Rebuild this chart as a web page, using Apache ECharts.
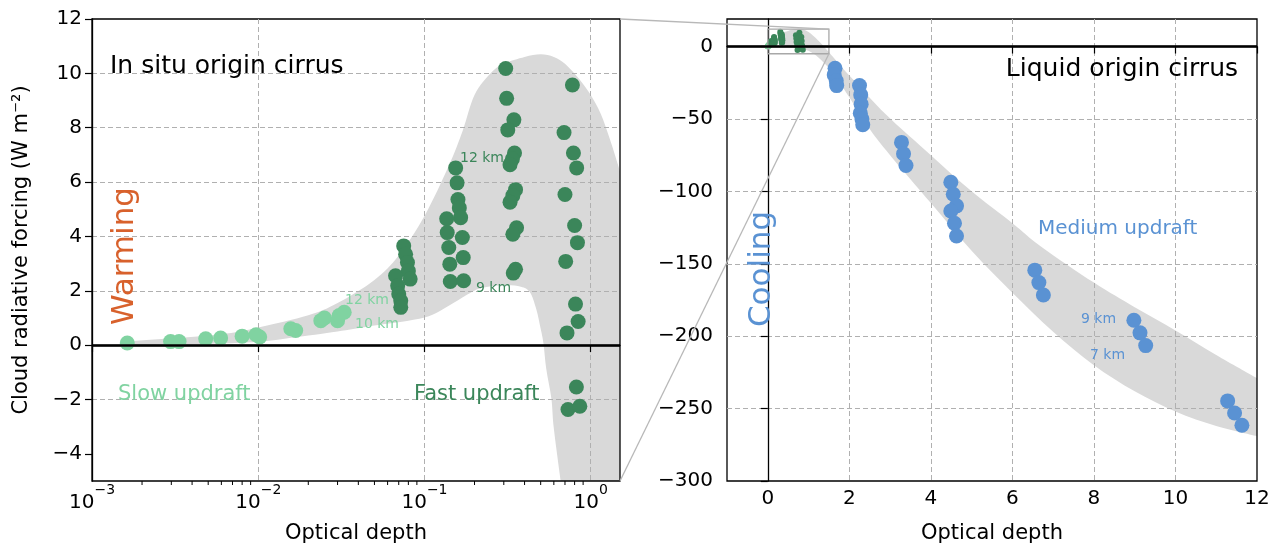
<!DOCTYPE html>
<html>
<head>
<meta charset="utf-8">
<script src="https://cdn.jsdelivr.net/npm/echarts@6/dist/echarts.min.js"></script>
<style>
html,body{margin:0;padding:0;background:#ffffff;}
#chart{width:1276px;height:549px;}
</style>
</head>
<body>
<div id="chart"></div>
<script>
// ---------------- data ----------------
// Left panel: in situ origin cirrus (log x)
const slowX = [0.00163, 0.00297, 0.00334, 0.00483, 0.00594, 0.0080, 0.0097, 0.0102, 0.0157, 0.0168, 0.0238, 0.0250, 0.0300, 0.0307, 0.0329];
const slowY = [0.08, 0.13, 0.13, 0.23, 0.26, 0.33, 0.38, 0.30, 0.60, 0.54, 0.90, 1.00, 0.90, 1.09, 1.21];

const fastX = [0.075, 0.077, 0.079, 0.080, 0.082, 0.067, 0.069, 0.070, 0.072, 0.072,
               0.154, 0.157, 0.159, 0.162, 0.165, 0.136, 0.137, 0.169, 0.140, 0.171, 0.142, 0.143, 0.172,
               0.308, 0.312, 0.345, 0.317, 0.348, 0.338, 0.327, 0.353, 0.340, 0.327, 0.358, 0.340, 0.353, 0.342,
               0.776, 0.691, 0.787, 0.823, 0.700, 0.800, 0.832, 0.707, 0.810, 0.840, 0.720, 0.820, 0.730, 0.860];
const fastY = [3.65, 3.34, 3.04, 2.73, 2.43, 2.55, 2.18, 1.88, 1.63, 1.39,
               6.52, 5.97, 5.36, 5.05, 4.69, 4.65, 4.14, 3.96, 3.59, 3.22, 2.98, 2.34, 2.37,
               10.18, 9.08, 8.29, 7.92, 7.07, 6.85, 6.64, 5.72, 5.50, 5.26, 4.32, 4.08, 2.79, 2.65,
               9.57, 7.82, 7.07, 6.52, 5.54, 4.40, 3.77, 3.08, 1.51, 0.87, 0.45, -1.54, -2.37, -2.25];

// grey envelope, in situ
const inSituUpperX = [0.0015, 0.003, 0.006, 0.01, 0.02, 0.03, 0.05, 0.07, 0.1, 0.14, 0.17, 0.2, 0.25, 0.3, 0.4, 0.5, 0.6, 0.7, 0.85, 1.0, 1.15, 1.3, 1.5];
const inSituUpperY = [0.12, 0.25, 0.4, 0.65, 1.1, 1.55, 2.4, 3.3, 4.75, 6.6, 7.9, 9.2, 10.0, 10.35, 10.6, 10.7, 10.6, 10.35, 9.8, 9.2, 8.5, 7.6, 6.4];
const inSituLowerX = [0.0015, 0.005, 0.01, 0.02, 0.03, 0.05, 0.1, 0.14, 0.18, 0.22, 0.3, 0.38, 0.43, 0.47, 0.5, 0.52, 0.54, 0.58, 0.6, 0.66];
const inSituLowerY = [0.0, 0.05, 0.12, 0.35, 0.5, 0.72, 1.02, 1.45, 1.85, 2.1, 2.2, 2.15, 1.95, 1.33, 0.6, 0.05, -0.87, -1.97, -3.07, -5.0];

// Right panel: liquid origin cirrus (linear x)
const mediumX = [1.65, 1.63, 1.68, 1.69, 2.25, 2.28, 2.29, 2.27, 2.31, 2.33,
                 3.28, 3.33, 3.39, 4.49, 4.55, 4.63, 4.49, 4.58, 4.63,
                 6.55, 6.65, 6.76, 8.98, 9.13, 9.27, 11.28, 11.45, 11.63];
const mediumY = [-15, -19.6, -23.7, -27, -27, -33.4, -39.8, -46, -50, -54,
                 -66.2, -74, -82.2, -93.7, -102, -110, -113.6, -122, -130.8,
                 -154.4, -163, -171.6, -189, -197.7, -206.5, -244.7, -253, -261.5];

const liquidUpperX = [0.4, 1.0, 2.0, 2.9, 4.0, 5.0, 6.0, 6.7, 8.0, 9.0, 10.0, 11.0, 12.0];
const liquidUpperY = [10, 10, -20, -47, -75, -100, -122, -138, -163, -180, -196, -213, -229];
const liquidLowerX = [0.4, 1.0, 1.5, 2.0, 2.5, 3.0, 4.0, 5.0, 6.0, 7.0, 8.0, 9.0, 10.0, 11.0, 12.0];
const liquidLowerY = [0, -3, -15, -35, -57, -75, -108, -141, -170, -197, -220, -238, -252, -262, -269];

// axis ranges and tick labels
const inSituX = [0.001, 1.5];
const inSituY = [-5, 12];
const inSituYTicks = [-4, -2, 0, 2, 4, 6, 8, 10, 12];
const liquidX = [-1, 12];
const liquidXTicks = [0, 2, 4, 6, 8, 10, 12];
const liquidY = [-300, 19];
const decades = [-3, -2, -1, 0];

// ---------------- styling ----------------
const FONT = 'DejaVu Sans';
const DARK = '#3b865a';
const LIGHT = '#80d3a1';
const BLUE = '#5a92d3';
const ORANGE = '#d8612c';
const BAND = '#d9d9d9';
const TICKFS = 20;

function powLabel(v){
  const e = Math.log10(v);
  const r = Math.round(e);
  if (Math.abs(e - r) > 1e-6) return '';
  return '{b|10}{s|' + (r < 0 ? '\u2212' + (-r) : String(r)) + '}';
}
function num(v){ return v < 0 ? '\u2212' + (-v) : String(v); }

const minorTicks = [];
decades.forEach(d => { for (let k = 2; k <= 9; k++) { const v = k * Math.pow(10, d); if (v <= inSituX[1]) minorTicks.push(v); } });

const zipPts = (xs, ys) => xs.map((x, i) => [x, ys[i]]);

// smooth (Catmull-Rom) path through pixel points
function smoothSeg(pts){
  let d = '';
  for (let i = 0; i < pts.length - 1; i++){
    const p0 = pts[Math.max(i - 1, 0)], p1 = pts[i], p2 = pts[i + 1], p3 = pts[Math.min(i + 2, pts.length - 1)];
    const c1 = [p1[0] + (p2[0] - p0[0]) / 6, p1[1] + (p2[1] - p0[1]) / 6];
    const c2 = [p2[0] - (p3[0] - p1[0]) / 6, p2[1] - (p3[1] - p1[1]) / 6];
    d += ' C' + c1[0].toFixed(2) + ' ' + c1[1].toFixed(2) + ' ' + c2[0].toFixed(2) + ' ' + c2[1].toFixed(2) + ' ' + p2[0].toFixed(2) + ' ' + p2[1].toFixed(2);
  }
  return d;
}
function bandSeries(upper, lower, corners, xi, yi){
  return {
    type:'custom', xAxisIndex:xi, yAxisIndex:yi, z:-1, silent:true, clip:true,
    data:[upper[0]],
    renderItem:function(params, api){
      const up = upper.map(p => api.coord(p));
      const lo = lower.map(p => api.coord(p)).reverse();
      const cs = corners.map(p => api.coord(p));
      let d = 'M' + up[0][0] + ' ' + up[0][1] + smoothSeg(up);
      cs.forEach(c => { d += ' L' + c[0] + ' ' + c[1]; });
      d += ' L' + lo[0][0] + ' ' + lo[0][1] + smoothSeg(lo) + ' Z';
      return {type:'path', shape:{pathData:d}, style:{fill:BAND}};
    }
  };
}

const gridLine = {show:true, showMinLine:false, showMaxLine:false, lineStyle:{color:'#b0b0b0', type:[5,3], width:1}};
const axisLineStyle = {show:true, lineStyle:{color:'#000', width:1.3}};
const tickStyle = {show:true, inside:false, length:7, lineStyle:{color:'#000', width:1.2}};
const labelStyle = {color:'#000', fontSize:TICKFS, fontFamily:FONT};
const nameStyle = {color:'#000', fontSize:21, fontFamily:FONT};

const zeroLine = {silent:true, symbol:'none', label:{show:false}, lineStyle:{color:'#000', width:2.5, type:'solid'}, data:[{yAxis:0}], animation:false};

const chart = echarts.init(document.getElementById('chart'), null, {renderer:'canvas'});
const option = {
  animation:false,
  backgroundColor:'#ffffff',
  textStyle:{fontFamily:FONT},
  grid:[
    {left:92, top:19, width:528, height:464, show:true, borderColor:'#000', borderWidth:1.3, backgroundColor:'transparent', containLabel:false},
    {left:727, top:19, width:530, height:464, show:true, borderColor:'#000', borderWidth:1.3, backgroundColor:'transparent', containLabel:false}
  ],
  xAxis:[
    {type:'log', logBase:10, gridIndex:0, min:inSituX[0], max:inSituX[1],
     name:'Optical depth', nameLocation:'middle', nameGap:42, nameTextStyle:nameStyle,
     axisLine:axisLineStyle, axisTick:tickStyle,
     axisLabel:{margin:2, formatter:powLabel, showMaxLabel:false, color:'#000', fontFamily:FONT,
       rich:{b:{fontSize:TICKFS, lineHeight:30, verticalAlign:'bottom', color:'#000', fontFamily:FONT},
             s:{fontSize:14, lineHeight:14, verticalAlign:'top', color:'#000', fontFamily:FONT}}},
     splitLine:gridLine, minorTick:{show:false}},
    {type:'value', gridIndex:1, min:liquidX[0], max:liquidX[1], splitNumber:6,
     name:'Optical depth', nameLocation:'middle', nameGap:42, nameTextStyle:nameStyle,
     axisLine:axisLineStyle, axisTick:Object.assign({customValues:liquidXTicks}, tickStyle),
     axisLabel:Object.assign({margin:8, customValues:liquidXTicks, formatter:num}, labelStyle),
     splitLine:gridLine}
  ],
  yAxis:[
    {type:'value', gridIndex:0, min:inSituY[0], max:inSituY[1], splitNumber:8,
     name:'Cloud radiative forcing (W m\u207B\u00B2)', nameLocation:'middle', nameGap:60, nameRotate:90, nameTextStyle:nameStyle,
     axisLine:axisLineStyle, axisTick:Object.assign({customValues:inSituYTicks}, tickStyle),
     axisLabel:Object.assign({margin:10, customValues:inSituYTicks, formatter:num}, labelStyle),
     splitLine:gridLine},
    {type:'value', gridIndex:1, min:liquidY[0], max:liquidY[1], interval:50,
     axisLine:axisLineStyle, axisTick:tickStyle,
     axisLabel:Object.assign({margin:14, formatter:function(v){ return (v % 50 === 0) ? num(v) : ''; }, showMaxLabel:false}, labelStyle),
     splitLine:gridLine}
  ],
  series:[
    bandSeries(zipPts(inSituUpperX, inSituUpperY), zipPts(inSituLowerX, inSituLowerY), [[inSituX[1], inSituY[0]]], 0, 0),
    {type:'custom', xAxisIndex:0, yAxisIndex:0, z:5, silent:true, clip:false,
     data:minorTicks.map(v => [v, inSituY[0]]),
     renderItem:function(params, api){
       const p = api.coord([api.value(0), api.value(1)]);
       return {type:'line', shape:{x1:p[0], y1:p[1], x2:p[0], y2:p[1] + 4}, style:{stroke:'#000', lineWidth:1}};
     }},
    {type:'scatter', xAxisIndex:0, yAxisIndex:0, symbolSize:15, z:3, itemStyle:{color:LIGHT, opacity:1},
     data:zipPts(slowX, slowY), markLine:zeroLine},
    {type:'scatter', xAxisIndex:0, yAxisIndex:0, symbolSize:15, z:3, itemStyle:{color:DARK, opacity:1},
     data:zipPts(fastX, fastY)},
    bandSeries(zipPts(liquidUpperX, liquidUpperY), zipPts(liquidLowerX, liquidLowerY), [], 1, 1),
    {type:'scatter', xAxisIndex:1, yAxisIndex:1, symbolSize:15, z:3, itemStyle:{color:BLUE, opacity:1},
     data:zipPts(mediumX, mediumY), markLine:zeroLine},
    {type:'scatter', xAxisIndex:1, yAxisIndex:1, symbolSize:6, z:3, itemStyle:{color:LIGHT, opacity:1},
     data:zipPts(slowX, slowY)},
    {type:'scatter', xAxisIndex:1, yAxisIndex:1, symbolSize:6, z:3, itemStyle:{color:DARK, opacity:1},
     data:zipPts(fastX, fastY)},
    {type:'custom', xAxisIndex:1, yAxisIndex:1, z:4, silent:true, clip:false,
     data:[[inSituX[0], inSituY[0]]],
     renderItem:function(params, api){
       const p0 = api.coord([inSituX[0], inSituY[1]]);
       const p1 = api.coord([inSituX[1], inSituY[0]]);
       return {type:'rect', shape:{x:p0[0], y:p0[1], width:p1[0] - p0[0], height:p1[1] - p0[1]},
               style:{fill:'none', stroke:'#a8a8a8', lineWidth:1.3}};
     }}
  ]
};
chart.setOption(option);

// connector lines (inset indicator) and annotations
const a1 = chart.convertToPixel({gridIndex:0}, [inSituX[1], inSituY[1]]);
const a2 = chart.convertToPixel({gridIndex:0}, [inSituX[1], inSituY[0]]);
const b1 = chart.convertToPixel({gridIndex:1}, [inSituX[1], inSituY[1]]);
const b2 = chart.convertToPixel({gridIndex:1}, [inSituX[1], inSituY[0]]);

function txt(x, y, s, color, size, align, rot){
  return {type:'text', x:x, y:y, rotation:rot || 0, z:10, silent:true,
    style:{text:s, fill:color, font:size + 'px "' + FONT + '"', fontSize:size, fontFamily:FONT,
           align:align || 'left', verticalAlign:'middle', textAlign:align || 'left', textVerticalAlign:'middle'}};
}

chart.setOption({
  graphic:[
    {type:'line', z:10, silent:true, shape:{x1:a1[0], y1:a1[1], x2:b1[0], y2:b1[1]}, style:{stroke:'#b8b8b8', lineWidth:1.3}},
    {type:'line', z:10, silent:true, shape:{x1:a2[0], y1:a2[1], x2:b2[0], y2:b2[1]}, style:{stroke:'#b8b8b8', lineWidth:1.3}},
    txt(110, 66, 'In situ origin cirrus', '#000', 25, 'left'),
    txt(125, 256, 'Warming', ORANGE, 31, 'center', Math.PI/2),
    txt(460, 158, '12 km', DARK, 14, 'left'),
    txt(476, 288, '9 km', DARK, 14, 'left'),
    txt(345, 300, '12 km', LIGHT, 14, 'left'),
    txt(355, 324, '10 km', LIGHT, 14, 'left'),
    txt(118, 395, 'Slow updraft', LIGHT, 21, 'left'),
    txt(414, 395, 'Fast updraft', DARK, 21, 'left'),
    txt(1238, 69, 'Liquid origin cirrus', '#000', 25, 'right'),
    txt(762, 269, 'Cooling', BLUE, 31, 'center', Math.PI/2),
    txt(1038, 229, 'Medium updraft', BLUE, 20, 'left'),
    txt(1081, 319, '9 km', BLUE, 14, 'left'),
    txt(1090, 355, '7 km', BLUE, 14, 'left')
  ]
});
</script>
</body>
</html>
